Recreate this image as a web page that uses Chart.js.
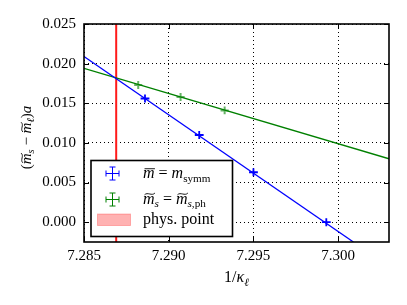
<!DOCTYPE html>
<html><head><meta charset="utf-8">
<script src="https://cdn.jsdelivr.net/npm/chart.js@4"></script>
<style>html,body{margin:0;padding:0;background:#fff}#c{display:block}</style>
</head><body>
<canvas id="c" width="407" height="305"></canvas>
<script>
// ---- data ----
const xTicks = [7.285, 7.290, 7.295, 7.300];
const yTicks = [0.000, 0.005, 0.010, 0.015, 0.020, 0.025];
const xRange = [7.285, 7.303];
const yRange = [-0.0025, 0.025];

const symmX = [7.2886, 7.2918, 7.2950, 7.2993];
const symmY = [0.0156, 0.0110, 0.0063, 0.0000];
const symmXErr = [0.00026, 0.00026, 0.00026, 0.00026];
const symmYErr = [0.0005, 0.0005, 0.0005, 0.0005];

const phX = [7.2882, 7.2907, 7.2933];
const phY = [0.0173, 0.0158, 0.0141];
const phXErr = [0.00024, 0.00024, 0.00024];
const phYErr = [0.0005, 0.0005, 0.0005];

const symmFitX = [7.285, 7.3009];
const symmFitY = [0.0209, -0.0025];
const phFitX = [7.285, 7.303];
const phFitY = [0.0194, 0.0080];

const physPointX = [7.2869, 7.2869];
const physPointY = [-0.0025, 0.025];

const BLUE = '#0000ff', GREEN = '#008000', RED = '#ff1a1a';
const FONT = '"Liberation Serif", "DejaVu Serif", serif';
Chart.defaults.font.family = FONT;
Chart.defaults.color = '#000';

const pts = (xs, ys) => xs.map((x, i) => ({x, y: ys[i]}));

function drawMath(ctx, parts, x, y, size, align) {
  const sub = size * 0.7;
  const f = p => (p.it ? 'italic ' : '') + (p.sub ? sub : size) + 'px ' + FONT;
  let w = 0;
  const ws = parts.map(p => { ctx.font = f(p); const m = ctx.measureText(p.t).width; w += m; return m; });
  let cx = align === 'center' ? x - w / 2 : x;
  ctx.textAlign = 'left';
  ctx.textBaseline = 'alphabetic';
  parts.forEach((p, i) => {
    ctx.font = f(p);
    const by = p.sub ? y + size * 0.22 : y;
    ctx.fillText(p.t, cx, by);
    if (p.acc) {
      const mid = cx + ws[i] / 2 + size * 0.06;
      const hw = ws[i] * 0.45;
      const ay = y - size * 0.58;
      ctx.save();
      ctx.strokeStyle = ctx.fillStyle;
      ctx.lineWidth = 0.9;
      ctx.beginPath();
      if (p.acc === 'tilde') {
        ctx.moveTo(mid - hw, ay + 0.6);
        ctx.bezierCurveTo(mid - hw * 0.4, ay - 2.6, mid + hw * 0.4, ay + 2.2, mid + hw, ay - 1.2);
      } else {
        ctx.moveTo(mid - hw, ay);
        ctx.lineTo(mid + hw, ay);
      }
      ctx.stroke();
      ctx.restore();
    }
    cx += ws[i];
  });
}

const errorBars = [
  {xs: symmX, ys: symmY, xe: symmXErr, ye: symmYErr, color: BLUE, width: 1.8},
  {xs: phX, ys: phY, xe: phXErr, ye: phYErr, color: 'rgba(0,128,0,0.6)', width: 2}
];

const framePlugin = {
  id: 'frame',
  afterDatasetsDraw(chart) {
    const {ctx, chartArea: ca, scales: {x, y}} = chart;
    ctx.save();
    ctx.beginPath();
    ctx.rect(ca.left, ca.top, ca.right - ca.left, ca.bottom - ca.top);
    ctx.clip();
    errorBars.forEach(s => {
      ctx.strokeStyle = s.color;
      ctx.lineWidth = s.width;
      s.xs.forEach((xv, i) => {
        const px = x.getPixelForValue(xv), py = y.getPixelForValue(s.ys[i]);
        const x0 = x.getPixelForValue(xv - s.xe[i]), x1 = x.getPixelForValue(xv + s.xe[i]);
        const y0 = y.getPixelForValue(s.ys[i] - s.ye[i]), y1 = y.getPixelForValue(s.ys[i] + s.ye[i]);
        ctx.beginPath();
        ctx.moveTo(x0, py); ctx.lineTo(x1, py);
        ctx.moveTo(px, y0); ctx.lineTo(px, y1);
        ctx.stroke();
      });
    });
    ctx.restore();

    // inward ticks on all sides
    ctx.save();
    ctx.strokeStyle = '#000';
    ctx.lineWidth = 1;
    ctx.beginPath();
    xTicks.forEach(v => {
      const p = Math.round(x.getPixelForValue(v)) + 0.5;
      ctx.moveTo(p, ca.bottom); ctx.lineTo(p, ca.bottom - 5);
      ctx.moveTo(p, ca.top); ctx.lineTo(p, ca.top + 5);
    });
    yTicks.forEach(v => {
      const p = Math.round(y.getPixelForValue(v)) + 0.5;
      ctx.moveTo(ca.left, p); ctx.lineTo(ca.left + 5, p);
      ctx.moveTo(ca.right, p); ctx.lineTo(ca.right - 5, p);
    });
    ctx.stroke();
    ctx.lineWidth = 1.6;
    ctx.strokeRect(ca.left, ca.top, ca.right - ca.left, ca.bottom - ca.top);
    ctx.restore();
  },
  afterDraw(chart) {
    const {ctx, chartArea: ca} = chart;
    ctx.save();
    ctx.fillStyle = '#000';
    // axis titles
    drawMath(ctx, [{t: '1/'}, {t: 'κ', it: true}, {t: 'ℓ', it: true, sub: true}], (ca.left + ca.right) / 2, 282, 16, 'center');
    ctx.save();
    ctx.translate(31, 137.5);
    ctx.rotate(-Math.PI / 2);
    drawMath(ctx, [{t: '('}, {t: 'm', it: true, acc: 'tilde'}, {t: 's', it: true, sub: true}, {t: ' − '},
                   {t: 'm', it: true, acc: 'tilde'}, {t: 'ℓ', it: true, sub: true}, {t: ')'}, {t: 'a', it: true}], 0, 0, 15, 'center');
    ctx.restore();

    // legend
    const lx = ca.left + 7, ly = ca.top + 136.5, lw = 141.5, lh = 76;
    ctx.fillStyle = '#fff';
    ctx.fillRect(lx, ly, lw, lh);
    ctx.strokeStyle = '#000';
    ctx.lineWidth = 1.6;
    ctx.strokeRect(lx, ly, lw, lh);
    const mx = lx + 21.5;
    const marker = (cy, color) => {
      ctx.strokeStyle = color;
      ctx.lineWidth = 1;
      ctx.beginPath();
      ctx.moveTo(mx - 6.5, cy); ctx.lineTo(mx + 6.5, cy);
      ctx.moveTo(mx, cy - 6.5); ctx.lineTo(mx, cy + 6.5);
      ctx.moveTo(mx - 3, cy - 6.5); ctx.lineTo(mx + 3, cy - 6.5);
      ctx.moveTo(mx - 3, cy + 6.5); ctx.lineTo(mx + 3, cy + 6.5);
      ctx.moveTo(mx - 6.5, cy - 3); ctx.lineTo(mx - 6.5, cy + 3);
      ctx.moveTo(mx + 6.5, cy - 3); ctx.lineTo(mx + 6.5, cy + 3);
      ctx.stroke();
    };
    marker(ly + 13, BLUE);
    marker(ly + 39, GREEN);
    ctx.fillStyle = 'rgba(255,0,0,0.3)';
    ctx.fillRect(lx + 6.5, ly + 53.5, 33, 11.5);
    ctx.strokeStyle = 'rgba(255,0,0,0.25)';
    ctx.lineWidth = 1;
    ctx.strokeRect(lx + 6.5, ly + 53.5, 33, 11.5);
    ctx.fillStyle = '#000';
    const tx = lx + 52;
    drawMath(ctx, [{t: 'm', it: true, acc: 'bar'}, {t: ' = '}, {t: 'm', it: true}, {t: 'symm', sub: true}], tx, ly + 17.5, 16, 'left');
    drawMath(ctx, [{t: 'm', it: true, acc: 'tilde'}, {t: 's', it: true, sub: true}, {t: ' = '}, {t: 'm', it: true, acc: 'tilde'},
                   {t: 's', it: true, sub: true}, {t: ',ph', sub: true}], tx, ly + 43, 16, 'left');
    drawMath(ctx, [{t: 'phys. point'}], tx, ly + 63, 16, 'left');
    ctx.restore();
  }
};

new Chart(document.getElementById('c'), {
  type: 'scatter',
  data: {
    datasets: [
      {label: 'symm points', data: pts(symmX, symmY), pointRadius: 0, borderColor: BLUE, backgroundColor: BLUE},
      {label: 'ph points', data: pts(phX, phY), pointRadius: 0, borderColor: GREEN, backgroundColor: GREEN},
      {label: 'symm fit', data: pts(symmFitX, symmFitY), showLine: true, pointRadius: 0, borderColor: BLUE, borderWidth: 1.3},
      {label: 'ph fit', data: pts(phFitX, phFitY), showLine: true, pointRadius: 0, borderColor: GREEN, borderWidth: 1.4},
      {label: 'phys. point', data: pts(physPointX, physPointY), showLine: true, pointRadius: 0, borderColor: RED, borderWidth: 2}
    ]
  },
  options: {
    responsive: false,
    animation: false,
    devicePixelRatio: 1,
    layout: {padding: {top: 24, right: 18, left: 0, bottom: 0}},
    plugins: {legend: {display: false}, tooltip: {enabled: false}},
    scales: {
      x: {
        type: 'linear', min: xRange[0], max: xRange[1],
        afterBuildTicks: s => { s.ticks = xTicks.map(v => ({value: v})); },
        afterFit: s => { s.height = 63; },
        ticks: {color: '#000', font: {family: FONT, size: 15}, padding: 5, maxRotation: 0,
                callback: v => Number(v).toFixed(3)},
        grid: {color: '#000', lineWidth: 1, drawTicks: false},
        border: {display: false, dash: [1, 3]}
      },
      y: {
        type: 'linear', min: yRange[0], max: yRange[1],
        afterBuildTicks: s => { s.ticks = yTicks.map(v => ({value: v})); },
        afterFit: s => { s.width = 84; },
        ticks: {color: '#000', font: {family: FONT, size: 15}, padding: 8,
                callback: v => Number(v).toFixed(3)},
        grid: {color: '#000', lineWidth: 1, drawTicks: false},
        border: {display: false, dash: [1, 3]}
      }
    }
  },
  plugins: [framePlugin]
});
</script>
</body></html>
